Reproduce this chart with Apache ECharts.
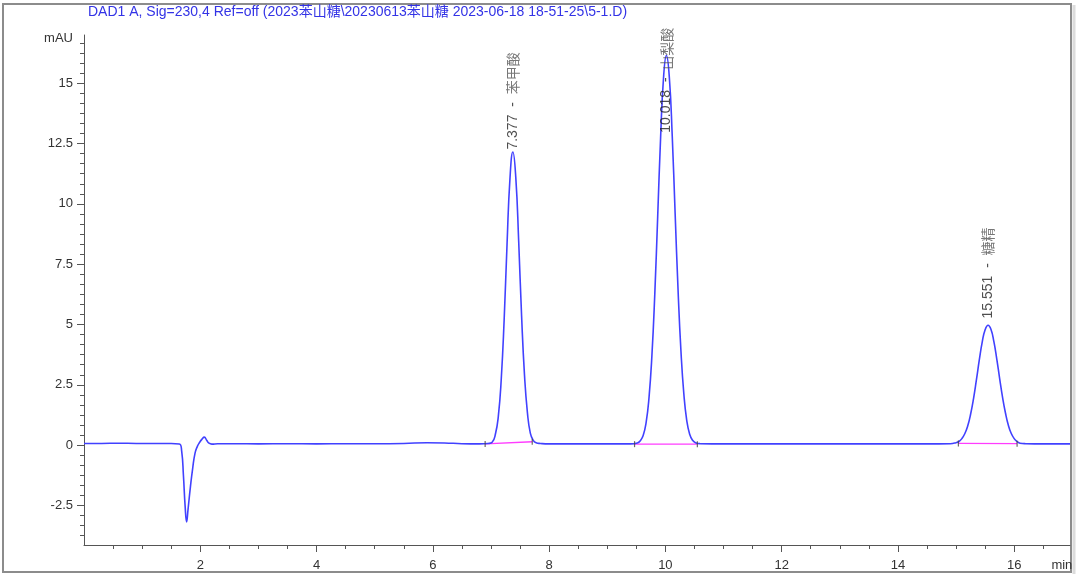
<!DOCTYPE html>
<html>
<head>
<meta charset="utf-8">
<script src="https://cdn.jsdelivr.net/npm/echarts@6/dist/echarts.min.js"></script>
<style>html,body{margin:0;padding:0;background:#fff;}#c{width:1080px;height:582px;}</style>
</head>
<body>
<div id="c"></div>
<script>
// ---- data ----
const titleText = 'DAD1 A, Sig=230,4 Ref=off (2023苯山糖\\20230613苯山糖 2023-06-18 18-51-25\\5-1.D)';
const traceTime = [0, 0.3, 0.6, 0.9, 1.2, 1.5, 1.64, 1.68, 1.71, 1.74, 1.765, 1.79, 1.83, 1.87, 1.91, 1.95, 1.99, 2.03, 2.07, 2.11, 2.15, 2.2, 2.3, 2.6, 3.0, 3.5, 4.0, 4.5, 5.0, 5.5, 5.9, 6.2, 6.5, 6.8, 6.95, 7.02,
  7.077, 7.127, 7.177, 7.227, 7.277, 7.327, 7.377, 7.427, 7.477, 7.527, 7.577, 7.627, 7.677, 7.727, 7.777, 7.85, 8.0, 8.5, 9.0, 9.4,
  9.518, 9.568, 9.618, 9.668, 9.718, 9.768, 9.818, 9.868, 9.918, 9.968, 10.018, 10.068, 10.118, 10.168, 10.218, 10.268, 10.318, 10.368, 10.418, 10.468, 10.518, 10.6, 11.0, 11.5, 12.0, 12.5, 13.0, 13.5, 14.0, 14.5, 14.9,
  15.0, 15.05, 15.1, 15.15, 15.2, 15.25, 15.3, 15.35, 15.4, 15.45, 15.5, 15.551, 15.6, 15.65, 15.7, 15.75, 15.8, 15.85, 15.9, 15.95, 16.0, 16.05, 16.1, 16.2, 16.5, 16.96];
const traceSignal = [0.07, 0.07, 0.08, 0.07, 0.07, 0.07, 0.05, -0.25, -1.25, -2.55, -3.18, -2.65, -1.74, -0.95, -0.33, -0.05, 0.12, 0.25, 0.33, 0.2, 0.08, 0.04, 0.06, 0.06, 0.05, 0.06, 0.05, 0.06, 0.06, 0.07, 0.1, 0.09, 0.06, 0.05, 0.07, 0.12,
  0.46, 1.2, 2.73, 5.2, 8.35, 11.05, 12.15, 11.1, 8.45, 5.35, 2.9, 1.35, 0.5, 0.2, 0.1, 0.07, 0.05, 0.05, 0.05, 0.05,
  0.09, 0.18, 0.4, 0.92, 1.95, 3.69, 6.26, 9.48, 12.74, 15.22, 16.15, 15.25, 12.82, 9.6, 6.45, 3.9, 2.12, 1.02, 0.45, 0.2, 0.1, 0.06, 0.05, 0.05, 0.05, 0.05, 0.05, 0.05, 0.05, 0.05, 0.06,
  0.1, 0.15, 0.27, 0.47, 0.79, 1.28, 1.92, 2.7, 3.53, 4.27, 4.78, 4.97, 4.8, 4.3, 3.58, 2.76, 1.98, 1.33, 0.82, 0.48, 0.27, 0.15, 0.08, 0.06, 0.05, 0.05];

const peakRT = [7.377, 10.018, 15.551];
const peakNames = ['苯甲酸', '山梨酸', '糖精'];
const peakLabelAt = [12.25, 12.95, 5.25];

const baseStartT = [6.9, 9.47, 15.04];
const baseStartV = [0.05, 0.04, 0.07];
const baseEndT = [7.71, 10.55, 16.05];
const baseEndV = [0.14, 0.04, 0.06];

const xTickLabels = [2, 4, 6, 8, 10, 12, 14, 16];
const xUnitLabel = 'min';
const yTickLabels = [-2.5, 0, 2.5, 5, 7.5, 10, 12.5, 15];
const yUnitLabel = 'mAU';

// ---- layout ----
const X_MIN = 0, X_MAX = 16.96, Y_MIN = -4.14, Y_MAX = 17;
const xUnitPos = 16.82, yUnitPos = 16.85;
const xMinor = []; for (let i = 1; i * 0.5 < X_MAX; i++) xMinor.push(i * 0.5);
const yMinor = []; for (let i = -10; i * (2.5 / 6) < Y_MAX; i++) yMinor.push(+(i * 2.5 / 6).toFixed(4));

const FONT = '"Liberation Sans", Arial, "Noto Sans CJK SC", sans-serif';
const axisColor = '#555';
const labelColor = '#333';

const trace = traceTime.map((t, i) => [t, traceSignal[i]]);

const baselineSeries = baseStartT.map((t, i) => ({
  type: 'line', xAxisIndex: 0, yAxisIndex: 0, silent: true, symbol: 'none',
  lineStyle: { color: '#ff3cff', width: 1.3 }, z: 3,
  data: [[t, baseStartV[i]], [baseEndT[i], baseEndV[i]]]
}));

const chart = echarts.init(document.getElementById('c'), null, { renderer: 'canvas' });
chart.setOption({
  animation: false,
  backgroundColor: '#fff',
  textStyle: { fontFamily: FONT },
  grid: { left: 84, right: 10, top: 35, bottom: 37, containLabel: false },
  graphic: [
    { type: 'rect', shape: { x: 3, y: 4, width: 1068, height: 568 }, style: { fill: 'none', stroke: '#8c8c8c', lineWidth: 2 }, z: -10 },
    { type: 'line', shape: { x1: 1074, y1: 5, x2: 1074, y2: 574 }, style: { stroke: '#dcdcdc', lineWidth: 3 }, z: -10 },
    { type: 'text', x: 88, y: 12, style: { text: titleText, fill: '#3333e6', font: '14px ' + FONT, verticalAlign: 'middle' } }
  ],
  xAxis: [
    {
      type: 'value', min: X_MIN, max: X_MAX, position: 'bottom',
      axisLine: { show: true, onZero: false, lineStyle: { color: axisColor, width: 1 } },
      axisTick: { show: true, length: 7, customValues: xTickLabels, lineStyle: { color: axisColor } },
      axisLabel: { show: true, customValues: xTickLabels.concat([xUnitPos]), margin: 14, color: labelColor, fontSize: 13, fontFamily: FONT,
        formatter: v => (Math.abs(v - xUnitPos) < 1e-6 ? xUnitLabel : String(v)) },
      splitLine: { show: false }
    },
    {
      type: 'value', min: X_MIN, max: X_MAX, position: 'bottom',
      axisLine: { show: false, onZero: false },
      axisTick: { show: true, length: 4, customValues: xMinor, lineStyle: { color: axisColor } },
      axisLabel: { show: false }, splitLine: { show: false }
    }
  ],
  yAxis: [
    {
      type: 'value', min: Y_MIN, max: Y_MAX, position: 'left',
      axisLine: { show: true, onZero: false, lineStyle: { color: axisColor, width: 1 } },
      axisTick: { show: true, length: 7, customValues: yTickLabels, lineStyle: { color: axisColor } },
      axisLabel: { show: true, customValues: yTickLabels.concat([yUnitPos]), margin: 11, color: labelColor, fontSize: 13, fontFamily: FONT,
        formatter: v => (Math.abs(v - yUnitPos) < 1e-6 ? yUnitLabel : String(v)) },
      splitLine: { show: false }
    },
    {
      type: 'value', min: Y_MIN, max: Y_MAX, position: 'left',
      axisLine: { show: false, onZero: false },
      axisTick: { show: true, length: 4, customValues: yMinor, lineStyle: { color: axisColor } },
      axisLabel: { show: false }, splitLine: { show: false }
    }
  ],
  series: [
    {
      type: 'line', name: 'DAD1 A', xAxisIndex: 0, yAxisIndex: 0, data: trace,
      showSymbol: false, symbol: 'none', smooth: 0.5,
      lineStyle: { color: '#4141ff', width: 1.6 }, z: 4
    },
    ...baselineSeries,
    {
      type: 'scatter', xAxisIndex: 0, yAxisIndex: 0, silent: true, symbol: 'rect', symbolSize: [1.2, 6],
      itemStyle: { color: '#444' }, z: 5,
      data: baseStartT.map((t, i) => [t, baseStartV[i]]).concat(baseEndT.map((t, i) => [t, baseEndV[i]]))
    },
    {
      type: 'scatter', xAxisIndex: 0, yAxisIndex: 0, silent: true, symbolSize: 0, z: 6,
      data: peakRT.map((t, i) => ({ value: [t, peakLabelAt[i]], name: peakNames[i] })),
      label: {
        show: true, position: 'top', distance: 0, rotate: 90, align: 'left', verticalAlign: 'middle',
        formatter: p => '{n|' + p.value[0].toFixed(3) + '  -  }{c|' + p.name + '}',
        rich: {
          n: { fontSize: 14, color: '#222', fontFamily: FONT },
          c: { fontSize: 14, color: '#555', fontFamily: '"Noto Sans CJK SC", sans-serif' }
        }
      }
    }
  ]
});
</script>
</body>
</html>
